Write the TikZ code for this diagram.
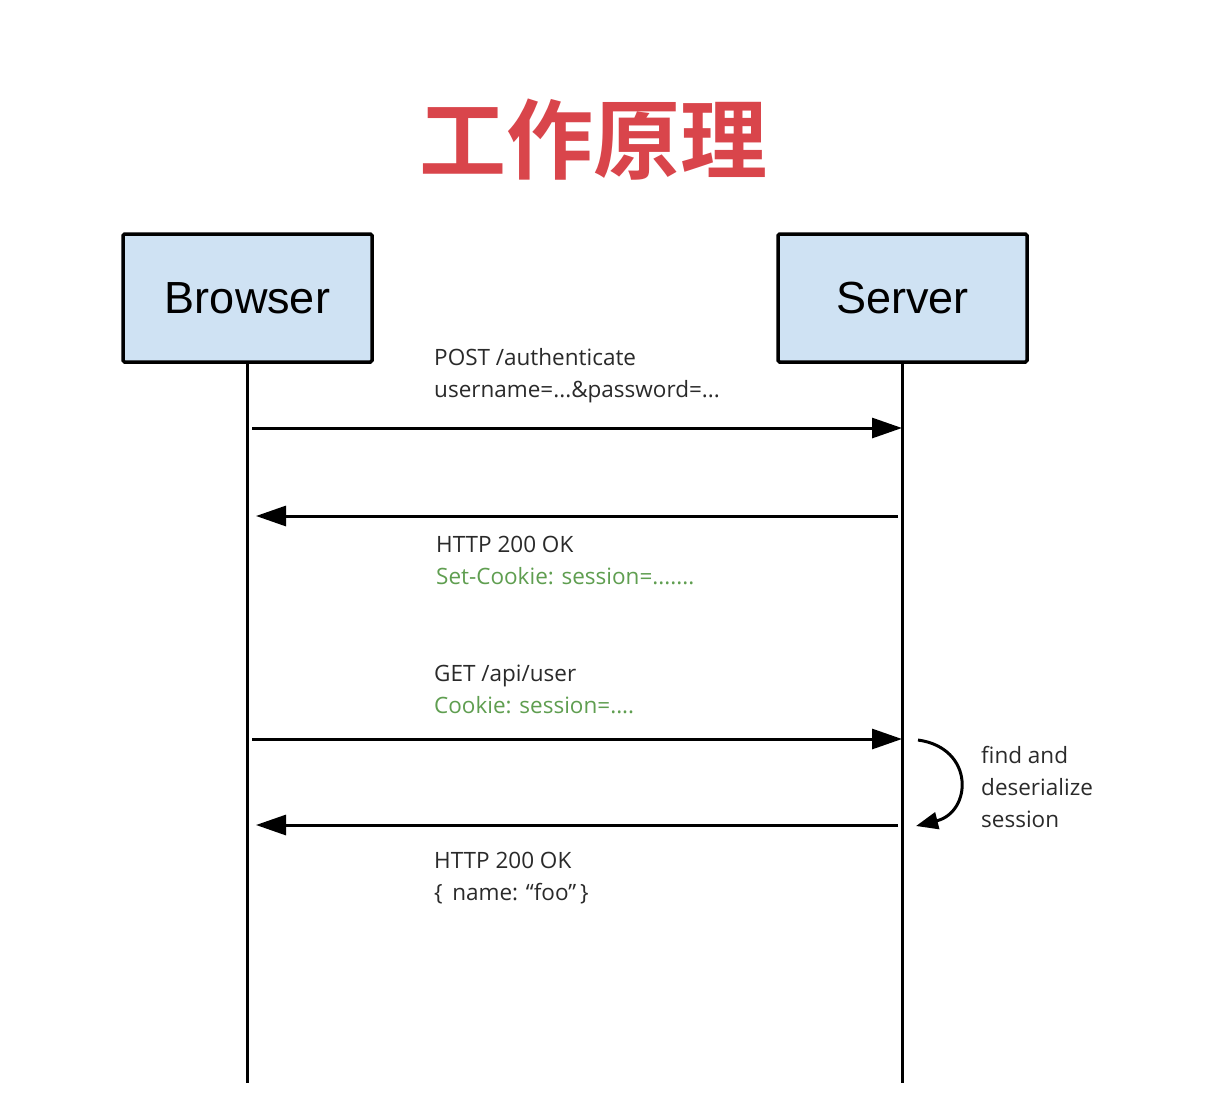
\documentclass[tikz,border=0pt]{standalone}
\usepackage{fontspec}
\setmainfont{Open Sans}
\newfontfamily\cjk{Noto Sans CJK SC}[BoldFont={Noto Sans CJK SC Bold}]
\newfontfamily\boxfont{Liberation Sans}
\usetikzlibrary{arrows.meta}
\definecolor{boxblue}{HTML}{CFE2F3}
\definecolor{titlered}{HTML}{D9454B}
\definecolor{msggreen}{HTML}{5F9E50}
\definecolor{msgtext}{HTML}{2A2A2A}
\begin{document}
\begin{tikzpicture}[x=1pt,y=-1pt,
  actor/.style={draw=black,line width=3.5pt,fill=boxblue,rounded corners=1.5pt,minimum width=249pt,minimum height=128pt,inner sep=0pt,font=\boxfont\fontsize{45}{48}\selectfont},
  lifeline/.style={line width=3pt},
  msg/.style={line width=3pt,-{Triangle[length=30pt,width=20pt]}},
  lbl/.style={anchor=west,align=left,inner sep=0pt,text=msgtext,font=\fontsize{22.5}{32}\selectfont},
  green/.style={text=msggreen}]
\useasboundingbox[fill=white] (0,0) rectangle (1231,1114);
\node[font=\cjk\bfseries\fontsize{87}{92}\selectfont,text=titlered] (title) at (593,140) {工作原理};
\node[actor] (browser) at (247.5,298) {Browser};
\node[actor] (server) at (902.5,298) {Server};
\coordinate (bend) at (246,1083);
\coordinate (send) at (904,1083);
\draw[lifeline] (browser.south) -- (browser.south |- bend);
\draw[lifeline] (server.south) -- (server.south |- send);
% message anchors
\coordinate (b1) at (252,428); \coordinate (s1) at (902,428);
\coordinate (s2) at (898,516); \coordinate (b2) at (256,516);
\coordinate (b3) at (252,739); \coordinate (s3) at (902,739);
\coordinate (s4) at (898,825); \coordinate (b4) at (256,825);
\draw[msg] (b1) -- (s1);
\draw[msg] (s2) -- (b2);
\draw[msg] (b3) -- (s3);
\draw[msg] (s4) -- (b4);
\node[lbl] (l1) at (434,376) {POST /authenticate\\username=...\&password=...};
\node[lbl] (l2) at (436,560) {HTTP 200 OK\\\textcolor{msggreen}{Set-Cookie: session=.......}};
\node[lbl] (l3) at (434,689) {GET /api/user\\\textcolor{msggreen}{Cookie: session=....}};
\node[lbl] (l4) at (434,878) {HTTP 200 OK\\\{\ \,name: “foo”\,\}};
\node[lbl] (l5) at (981,787) {find and\\deserialize\\session};
\coordinate (c1) at (918,740);
\coordinate (c2) at (916,826);
\draw[line width=3pt,-{Triangle[length=22pt,width=17pt]}] (c1) .. controls (975,748) and (972,812) .. (c2);
\end{tikzpicture}
\end{document}
